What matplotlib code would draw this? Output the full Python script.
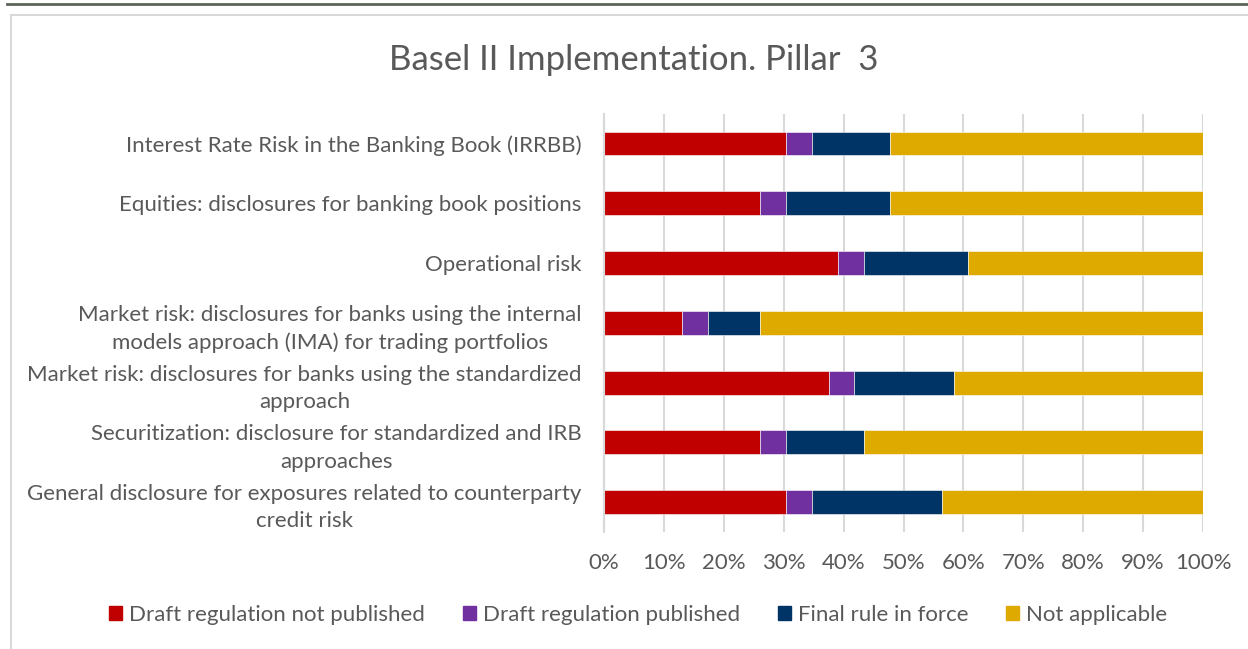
import matplotlib
matplotlib.use("Agg")
import matplotlib.pyplot as plt
from matplotlib.lines import Line2D
from matplotlib.patches import Rectangle, Patch
from matplotlib.ticker import PercentFormatter, MultipleLocator

plt.rcParams['font.family'] = ['Lato', 'DejaVu Sans']

categories = [
    "Interest Rate Risk in the Banking Book (IRRBB)",
    "Equities: disclosures for banking book positions",
    "Operational risk",
    "Market risk: disclosures for banks using the internal\nmodels approach (IMA) for trading portfolios",
    "Market risk: disclosures for banks using the standardized\napproach",
    "Securitization: disclosure for standardized and IRB\napproaches",
    "General disclosure for exposures related to counterparty\ncredit risk",
]
draft_not_published = [30.4, 26.1, 39.1, 13.0, 37.5, 26.1, 30.4]
draft_published     = [4.3, 4.3, 4.3, 4.3, 4.2, 4.3, 4.3]
final_rule          = [13.0, 17.4, 17.4, 8.7, 16.7, 13.0, 21.8]
not_applicable      = [52.3, 52.2, 39.2, 74.0, 41.6, 56.6, 43.5]

series_names = ["Draft regulation not published", "Draft regulation published",
                "Final rule in force", "Not applicable"]
colors = ["#C00000", "#7030A0", "#003366", "#DFAA00"]
text_color = "#595959"
fs = 16

fig = plt.figure(figsize=(12.48, 6.49), dpi=100)
W, H = 1248, 649
ax = fig.add_axes([604 / W, 1 - 532 / H, (1203 - 604) / W, (532 - 113.6) / H])

ypos = list(range(len(categories)))
left = [0.0] * len(categories)
for vals, name, col in zip([draft_not_published, draft_published, final_rule, not_applicable],
                           series_names, colors):
    ax.barh(ypos, vals, left=left, height=0.40, color=col, label=name,
            edgecolor="white", linewidth=0.4, zorder=3)
    left = [l + v for l, v in zip(left, vals)]

ax.set_xlim(0, 100)
ax.set_ylim(len(categories) - 0.5, -0.5)
ax.xaxis.set_major_locator(MultipleLocator(10))
ax.xaxis.set_major_formatter(PercentFormatter(100, decimals=0))
ax.set_yticks(ypos)
ax.set_yticklabels(categories, multialignment="center", linespacing=1.45)
ax.tick_params(axis="y", length=0, pad=16, labelsize=fs, labelcolor=text_color)
ax.tick_params(axis="x", length=0, pad=15, labelsize=fs, labelcolor=text_color)
ax.grid(axis="x", color="#D9D9D9", linewidth=1.5, zorder=0)
for s in ["top", "right", "bottom"]:
    ax.spines[s].set_visible(False)
ax.spines["left"].set_color("#D9D9D9")
ax.spines["left"].set_linewidth(1.5)
ax.spines["left"].set_zorder(4)

fig.text(634 / W, 1 - 60 / H, "Basel II Implementation. Pillar  3", ha="center", va="center",
         fontsize=25, color=text_color)

handles = [Patch(facecolor=c, edgecolor=c) for c in colors]
fig.legend(handles, series_names, loc="center", bbox_to_anchor=(638 / W, 1 - 615 / H),
           ncol=4, frameon=False, fontsize=fs, labelcolor=text_color,
           handlelength=0.6, handleheight=0.6, handletextpad=0.3, columnspacing=1.7)

# chart frame and top rule
fig.add_artist(Rectangle((11 / W, -0.1), 1.2, (1 - 15 / H) + 0.1, transform=fig.transFigure,
                         fill=False, edgecolor="#D9D9D9", linewidth=1.5))
fig.add_artist(Line2D([7 / W, 1], [1 - 3.5 / H, 1 - 3.5 / H], transform=fig.transFigure,
                      color="#5E6359", linewidth=2))

fig.savefig("out.png", dpi=100, facecolor="white")
